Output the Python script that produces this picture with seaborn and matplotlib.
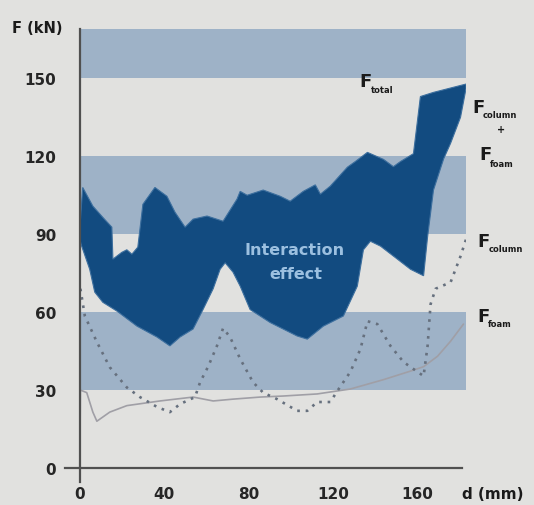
import numpy as np
import pandas as pd
import matplotlib
matplotlib.use("Agg")
import matplotlib.pyplot as plt
import seaborn as sns


# F_total (upper edge of the dark area), d in mm, F in kN
TOTAL_D = [0, 1.4, 6.2, 10.9, 15.2, 15.7, 19.9, 22.3, 24.7, 27.5, 29.9, 35.6, 41.3, 45.1,
           49.9, 53.7, 60.3, 67.9, 74.5, 76.0, 79.3, 86.9, 95.0, 99.7, 105.9, 111.6, 114.0,
           118.7, 126.8, 130.6, 136.3, 143.9, 148.6, 152.0, 158.1, 161.4, 167.6, 183.0]
TOTAL_F = [92, 108, 100.8, 96.5, 92.7, 80.4, 83, 84, 82.3, 85, 101.5, 108, 104.6, 98.5,
           92.7, 95.8, 97, 95, 103.5, 106.5, 105, 107, 104.6, 102.7, 106.5, 109, 105.4,
           108.5, 115.8, 118, 121.5, 118.8, 116, 118, 121, 143, 144.6, 147.8]

# F_column + F_foam (lower edge of the dark area)
SUM_D = [0, 0.9, 4.7, 7.1, 10.9, 17.6, 27.1, 36.6, 42.7, 47.5, 53.7, 58.4, 63.2, 66.5,
         68.9, 72.6, 76.0, 80.7, 90.2, 103.0, 107.8, 115.4, 124.9, 131.5, 134.4, 137.7,
         142.5, 150.5, 156.7, 162.9, 164.8, 167.6, 172.4, 175.7, 180.4, 183.0]
SUM_F = [88, 85.4, 76.5, 67.7, 63.8, 60.4, 54.6, 50.4, 47, 50.4, 53.5, 61, 69, 76.5,
         79, 75.4, 70, 61, 56, 50.8, 49.6, 54.6, 58.5, 70, 84, 87.3,
         85.4, 80.4, 76.5, 74, 89, 107, 119, 125, 135, 146]

# F_column (dotted)
COLUMN_D = [0.3, 2.4, 8.1, 14.2, 22.3, 28.5, 36.6, 42.7, 47.5, 54.6, 57.0, 60.8, 65.0,
            67.9, 71.2, 76.0, 82.1, 86.9, 93.5, 103.0, 107.8, 112.5, 118.7, 122.0, 128.2,
            133.0, 136.3, 141.0, 147.2, 153.4, 160.0, 162.9, 164.8, 166.2, 168.6, 175.7,
            180.4, 183.0]
COLUMN_F = [69, 58.5, 48.5, 38.8, 31, 27.3, 23.5, 21.5, 24.6, 27.3, 33, 39, 47,
            53.8, 50.4, 42, 33, 29, 26.5, 22, 22, 25.4, 25.4, 29.6, 37,
            45.8, 56.5, 55.4, 47, 40.8, 37, 35.4, 47, 63, 69, 71.5,
            81.5, 88]

# F_foam (thin solid)
FOAM_D = [0, 0.3, 3.3, 6.2, 8.1, 14.2, 22.3, 38.0, 53.7, 63.2, 72.6, 85.5, 96.4, 112.5,
          128.2, 143.9, 156.7, 162.9, 169.5, 175.7, 181.8]
FOAM_F = [0, 30, 29, 21.5, 18, 21.5, 24, 25.8, 27.3, 25.8, 26.5, 27.3, 27.7, 28.5,
          30.4, 34, 37.3, 39, 43, 48.8, 55.4]

Y_TICKS = [0, 30, 60, 90, 120, 150]
X_TICKS = [0, 40, 80, 120, 160]
BANDS = [(30, 60), (90, 120), (150, 169)]

BG = "#e1e1df"
BAND = "#9eb2c7"
DARK = "#124b80"
INK = "#262626"

W, H = 534, 506

sns.set_style("white", {"axes.facecolor": BG, "figure.facecolor": BG})
plt.rcParams["font.family"] = ["DejaVu Sans"]

fig = plt.figure(figsize=(W / 100, H / 100), dpi=100)
ax = fig.add_axes([65 / W, 23 / H, 401 / W, 453 / H])
ax.set_xlim(-7, 183)
ax.set_ylim(-5.4, 169)

# horizontal bands
for lo, hi in BANDS:
    ax.fill_between([0, 183], lo, hi, color=BAND, lw=0, zorder=0)

# interaction effect area
poly_x = TOTAL_D + SUM_D[::-1]
poly_y = TOTAL_F + SUM_F[::-1]
ax.fill(poly_x, poly_y, facecolor=DARK, edgecolor="#3d6f9e", lw=0.8, zorder=3)

foam = pd.DataFrame({"d": FOAM_D, "F": FOAM_F})
column = pd.DataFrame({"d": COLUMN_D, "F": COLUMN_F})
sns.lineplot(data=foam, x="d", y="F", ax=ax, color="#a09fa6", lw=1.2, sort=False, zorder=2)
sns.lineplot(data=column, x="d", y="F", ax=ax, color="#66707e", lw=1.9,
             linestyle=(0, (1, 2.2)), sort=False, zorder=2)

for side in ["top", "right"]:
    ax.spines[side].set_visible(False)
ax.spines["left"].set_position(("data", 0))
ax.spines["bottom"].set_position(("data", 0))
ax.spines["bottom"].set_bounds(-7, 181)
for side in ["left", "bottom"]:
    ax.spines[side].set_color("#505050")
    ax.spines[side].set_linewidth(1.6)
    ax.spines[side].set_zorder(4)

ax.set_xticks(X_TICKS)
ax.set_yticks(Y_TICKS)
ax.tick_params(axis="both", direction="out", length=9.5, width=1.4, color="#505050",
               labelsize=11, labelcolor=INK)
ax.tick_params(axis="y", pad=7.5)
ax.tick_params(axis="x", pad=4, length=9)
for lab in ax.get_xticklabels() + ax.get_yticklabels():
    lab.set_fontweight("bold")
ax.set_xlabel("")
ax.set_ylabel("")


def ftext(x, y, text, size, **kw):
    fig.text(x / W, 1 - y / H, text, fontsize=size, fontweight="bold", color="#1a1a1a",
             va="baseline", ha="left", **kw)


def flabel(x, y, sub, sx, sy):
    ftext(x, y, "F", 13)
    ftext(sx, sy, sub, 6)


flabel(359, 87, "total", 371, 93)
flabel(472, 113, "column", 483, 118)
ftext(497, 133, "+", 7)
flabel(479, 160, "foam", 490, 167)
flabel(477, 247, "column", 489, 252)
flabel(477, 322, "foam", 488, 327)

ftext(12, 33, "F (kN)", 10.5)
ftext(462, 499, "d (mm)", 11)

fig.text(295 / W, 1 - 251 / H, "Interaction", fontsize=11.5, fontweight="bold",
         color="#9cc0e0", ha="center", va="center")
fig.text(296 / W, 1 - 275 / H, "effect", fontsize=11.5, fontweight="bold",
         color="#9cc0e0", ha="center", va="center")

fig.savefig("out.png", dpi=100, facecolor=BG)
